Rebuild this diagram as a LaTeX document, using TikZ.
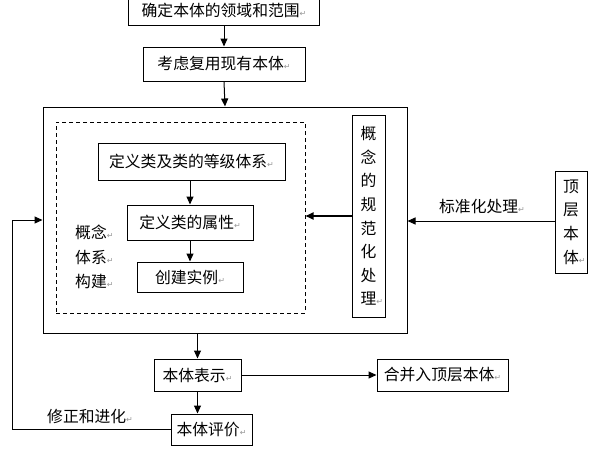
\documentclass[tikz,border=0pt]{standalone}
\usepackage{fontspec}
\setmainfont{Noto Sans CJK SC}
\newfontfamily\markfont{DejaVu Sans}
\usepackage{tikz}
\usetikzlibrary{arrows.meta,positioning}
\definecolor{markgray}{RGB}{150,150,150}
\newcommand{\retmark}{{\markfont\color{markgray}\fontsize{8}{8}\selectfont ↵}}
\tikzstyle{box} = [draw, line width=1pt, inner sep=0pt, font=\fontsize{15.8}{18}\selectfont]
\tikzstyle{vbox} = [box, align=center, font=\fontsize{15.8}{23.6}\selectfont]
\tikzstyle{arrow} = [line width=1pt,-{Triangle[length=8pt,width=7pt]}]

\begin{document}
\begin{tikzpicture}[x=1pt, y=-1pt]
\useasboundingbox (0,0) rectangle (597,448);
% Main flow
\node[box, minimum width=191pt, minimum height=29pt] (domain) at (224,10.5) {确定本体的领域和范围\retmark};
\node[box, minimum width=162pt, minimum height=34pt] (reuse) at (224,64) {考虑复用现有本体\retmark};
\node[draw, line width=1pt, minimum width=364pt, minimum height=226pt] (main) at (225,220) {};

% Concept system
\node[draw, dashed, dash pattern=on 4pt off 3pt, line width=1pt, minimum width=249pt, minimum height=191pt] (concept) at (180.5,217.5) {};
\node[box, minimum width=187pt, minimum height=37pt] (hier) at (191.5,161.5) {定义类及类的等级体系\retmark};
\node[box, minimum width=126pt, minimum height=35pt] (attr) at (190,222.5) {定义类的属性\retmark};
\node[box, minimum width=106pt, minimum height=30pt] (inst) at (190,277) {创建实例\retmark};
\node[anchor=west, inner sep=0pt, align=left, font=\fontsize{15.8}{24.5}\selectfont] (conceptlabel) at (75,257) {概念\retmark\\体系\retmark\\构建\retmark};

% Normalisation
\node[vbox, minimum width=33pt, minimum height=202pt] (norm) at (368.5,216) {概\\念\\的\\规\\范\\化\\处\\理\rlap{\retmark}};
\node[vbox, minimum width=32pt, minimum height=102pt] (top) at (571,222) {顶\\层\\本\\体\rlap{\retmark}};
\node[font=\fontsize{15.8}{18}\selectfont, inner sep=0pt] (stdlabel) at (482,206) {标准化处理\retmark};

% Representation and evaluation
\node[box, minimum width=87pt, minimum height=32pt] (rep) at (197.5,375) {本体表示\retmark};
\node[box, minimum width=131pt, minimum height=32pt] (merge) at (442.5,375) {合并入顶层本体\retmark};
\node[box, minimum width=81pt, minimum height=31pt] (eval) at (211.5,429.5) {本体评价\retmark};
\node[anchor=west, inner sep=0pt, font=\fontsize{15.8}{18}\selectfont] (fixlabel) at (47,416) {修正和进化\retmark};

% Arrows
\draw[arrow] (domain.south) -- (reuse.north);
\draw[arrow] (reuse.south) -- (main.north);
\draw[arrow] (hier.south -| attr.north) -- (attr.north);
\draw[arrow] (attr.south) -- (inst.north);
\draw[arrow, line width=1.8pt] (norm.west) -- (norm.west -| concept.east);
\draw[arrow] (top.west |- 0,221) -- (main.east |- 0,221);
\draw[arrow] (rep.north |- main.south) -- (rep.north);
\draw[arrow] (rep.east) -- (merge.west);
\draw[arrow] (rep.south) -- (rep.south |- eval.north);
\draw[arrow] (eval.west) -- ++(-158,0) |- (main.west);
\end{tikzpicture}
\end{document}
